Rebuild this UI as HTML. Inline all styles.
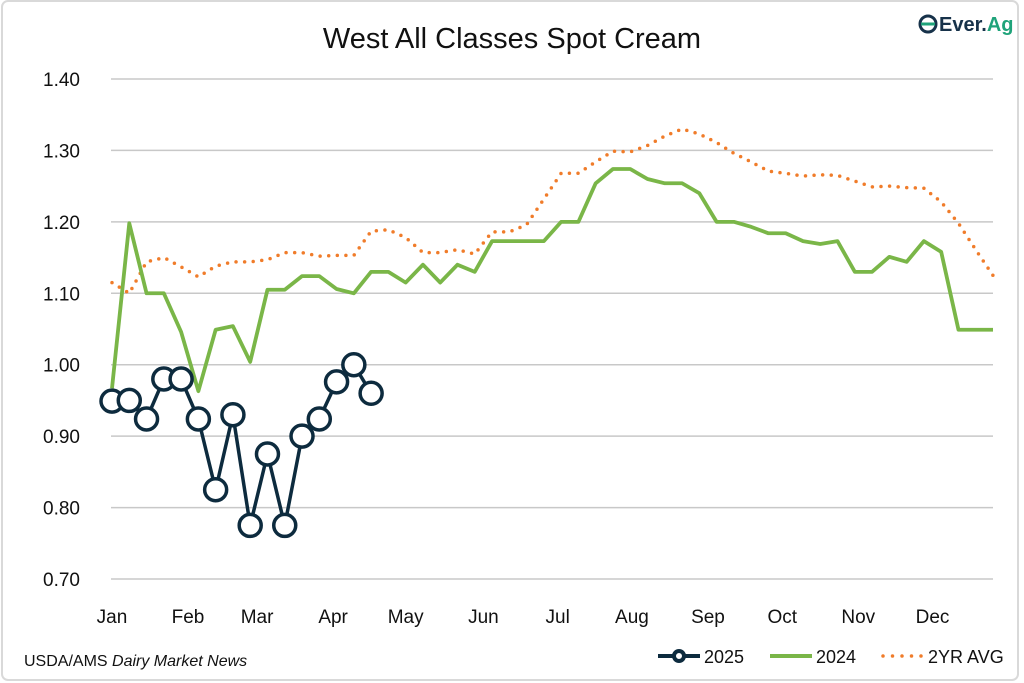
<!DOCTYPE html>
<html><head><meta charset="utf-8"><style>
html,body{margin:0;padding:0;background:#fff;}
svg{display:block;font-family:"Liberation Sans",sans-serif;}
</style></head><body>
<svg id="chart" width="1024" height="683" viewBox="0 0 1024 683">
<rect x="2" y="1" width="1016" height="679" rx="6" fill="#fff" stroke="#d9d9d9" stroke-width="2"/>
<text x="512" y="48" text-anchor="middle" font-size="29" fill="#111">West All Classes Spot Cream</text>
<g>
<ellipse cx="928" cy="24" rx="8" ry="8" fill="none" stroke="#17324a" stroke-width="3"/>
<path d="M921 24 H935" stroke="#1fa37a" stroke-width="3"/>
<text x="939" y="31" font-size="20" font-weight="bold" fill="#17324a">Ever.<tspan fill="#1fa37a">Ag</tspan></text>
</g>
<g id="grid"></g><g id="yticks"></g><g id="xticks"></g>
<g id="series"></g>
<text x="24" y="666" font-size="16" fill="#111">USDA/AMS <tspan font-style="italic">Dairy Market News</tspan></text>
<g>
<g>
<line x1="658" y1="656" x2="700" y2="656" stroke="#0d2b3e" stroke-width="4"/>
<circle cx="679" cy="656" r="5" fill="#fff" stroke="#0d2b3e" stroke-width="4"/>
<text x="704" y="663" font-size="18" fill="#111">2025</text></g>
<g>
<line x1="770" y1="656" x2="812" y2="656" stroke="#7ab648" stroke-width="4"/>
<text x="816" y="663" font-size="18" fill="#111">2024</text></g>
<g>
<line x1="883" y1="656" x2="922" y2="656" stroke="#f07c2a" stroke-width="3.5" stroke-linecap="round" stroke-dasharray="0 9.5"/>
<text x="928" y="663" font-size="18" fill="#111">2YR AVG</text></g>
</g>
</svg>
<script>
const yTicks=[0.70,0.80,0.90,1.00,1.10,1.20,1.30,1.40];
const months=["Jan","Feb","Mar","Apr","May","Jun","Jul","Aug","Sep","Oct","Nov","Dec"];
const monthWeek=[0,4.4,8.4,12.8,17,21.5,25.8,30.1,34.5,38.8,43.2,47.5];
const s2025=[0.949,0.95,0.924,0.98,0.98,0.924,0.825,0.93,0.775,0.875,0.775,0.90,0.924,0.976,1.00,0.96];
const s2024=[0.967,1.198,1.10,1.10,1.046,0.963,1.049,1.054,1.004,1.105,1.105,1.124,1.124,1.106,1.10,1.13,1.13,1.115,1.14,1.115,1.14,1.13,1.173,1.173,1.173,1.173,1.20,1.20,1.254,1.274,1.274,1.26,1.254,1.254,1.24,1.20,1.20,1.193,1.184,1.184,1.173,1.169,1.173,1.13,1.13,1.151,1.144,1.173,1.158,1.049,1.049,1.049];
const sAvg=[1.115,1.10,1.144,1.15,1.137,1.123,1.138,1.144,1.144,1.147,1.157,1.157,1.152,1.153,1.153,1.187,1.189,1.178,1.157,1.157,1.161,1.155,1.186,1.186,1.196,1.232,1.268,1.268,1.284,1.299,1.298,1.307,1.32,1.33,1.323,1.311,1.296,1.284,1.271,1.268,1.264,1.266,1.265,1.257,1.249,1.25,1.248,1.247,1.228,1.198,1.161,1.125];
const NS="http://www.w3.org/2000/svg";
const x0=112,x1=993,y0=579,y1=79,vmin=0.7,vmax=1.4;
const xs=i=>x0+i*(x1-x0)/51;
const ys=v=>y0-(v-vmin)/(vmax-vmin)*(y0-y1);
function mk(tag,attrs,parent){const e=document.createElementNS(NS,tag);for(const k in attrs)e.setAttribute(k,attrs[k]);parent.appendChild(e);return e;}
const grid=document.getElementById('grid'),yt=document.getElementById('yticks'),xt=document.getElementById('xticks'),ser=document.getElementById('series');
yTicks.forEach(v=>{
 const l=mk('line',{x1:111,x2:993,y1:ys(v),y2:ys(v),stroke:'#c8c8c8','stroke-width':1.5},grid);
 
 
 const t=mk('text',{x:80,y:ys(v)+7,'text-anchor':'end','font-size':19,fill:'#111'},yt);
 t.textContent=v.toFixed(2);
 
 
});
months.forEach((m,i)=>{
 const t=mk('text',{x:xs(monthWeek[i]),y:623,'text-anchor':'middle','font-size':19,fill:'#111'},xt);
 t.textContent=m;
 
 
});
const pts=a=>a.map((v,i)=>xs(i)+','+ys(v)).join(' ');
const pa=mk('polyline',{points:pts(sAvg),fill:'none',stroke:'#f07c2a','stroke-width':3.5,'stroke-linecap':'round','stroke-dasharray':'0 8.6'},ser);


const p4=mk('polyline',{points:pts(s2024),fill:'none',stroke:'#7ab648','stroke-width':3.8,'stroke-linejoin':'round'},ser);


const p5=mk('polyline',{points:pts(s2025),fill:'none',stroke:'#0d2b3e','stroke-width':3.5},ser);


s2025.forEach((v,i)=>{
 const c=mk('circle',{cx:xs(i),cy:ys(v),r:11,fill:'#fff',stroke:'#0d2b3e','stroke-width':3.5},ser);
 
 
});
</script>
</body></html>
